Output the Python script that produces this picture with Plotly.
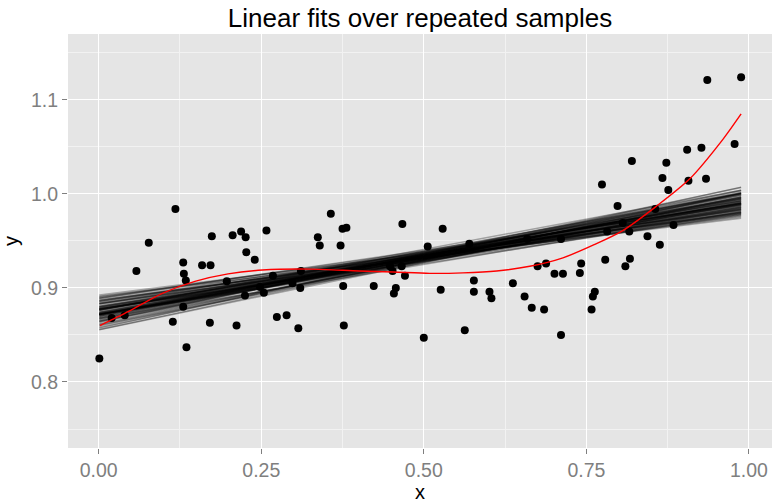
import plotly.graph_objects as go

# Observed sample
x_obs = [0.001, 0.020, 0.040, 0.058, 0.077, 0.114, 0.118, 0.130, 0.131, 0.134,
         0.130, 0.135, 0.159, 0.171, 0.172, 0.174, 0.197, 0.206, 0.212, 0.219,
         0.225, 0.226, 0.227, 0.240, 0.248, 0.254, 0.258, 0.268, 0.274, 0.289,
         0.298, 0.307, 0.310, 0.311, 0.337, 0.340, 0.357, 0.372, 0.375, 0.381,
         0.376, 0.377, 0.423, 0.448, 0.452, 0.454, 0.457, 0.466, 0.467, 0.471,
         0.500, 0.506, 0.526, 0.529, 0.563, 0.570, 0.577, 0.577, 0.601, 0.604,
         0.637, 0.655, 0.659, 0.666, 0.675, 0.685, 0.688, 0.701, 0.711, 0.711,
         0.714, 0.740, 0.742, 0.758, 0.760, 0.763, 0.774, 0.779, 0.782, 0.798,
         0.806, 0.810, 0.816, 0.817, 0.820, 0.844, 0.856, 0.863, 0.867, 0.873,
         0.876, 0.884, 0.905, 0.907, 0.927, 0.934, 0.936, 0.978, 0.988]
y_obs = [0.825, 0.868, 0.871, 0.918, 0.948, 0.864, 0.984, 0.927, 0.915, 0.908,
         0.880, 0.837, 0.924, 0.863, 0.924, 0.955, 0.907, 0.956, 0.860, 0.960,
         0.892, 0.954, 0.938, 0.930, 0.901, 0.895, 0.961, 0.913, 0.869, 0.871,
         0.905, 0.857, 0.900, 0.918, 0.954, 0.945, 0.979, 0.945, 0.963, 0.964,
         0.902, 0.860, 0.902, 0.923, 0.918, 0.894, 0.900, 0.923, 0.968, 0.913,
         0.847, 0.944, 0.898, 0.963, 0.855, 0.947, 0.908, 0.896, 0.896, 0.889,
         0.905, 0.891, 0.952, 0.879, 0.923, 0.877, 0.926, 0.915, 0.952, 0.850,
         0.915, 0.916, 0.926, 0.877, 0.891, 0.896, 1.010, 0.930, 0.960, 0.987,
         0.969, 0.923, 0.960, 0.931, 1.035, 0.955, 0.984, 0.946, 1.017, 1.033,
         1.004, 0.967, 1.047, 1.014, 1.049, 1.016, 1.121, 1.053, 1.124]

# Linear fits from repeated samples: intercepts and slopes
fit_intercepts = [0.8720, 0.8775, 0.8685, 0.8710, 0.8890, 0.8715, 0.8665, 0.8895, 0.8715, 0.8810,
                  0.8555, 0.8795, 0.8795, 0.8605, 0.8865, 0.8680, 0.8790, 0.8595, 0.8890, 0.8695,
                  0.8925, 0.8700, 0.8715, 0.8665, 0.8720, 0.8770, 0.8835, 0.8700, 0.8775, 0.8580,
                  0.8860, 0.8720, 0.8645, 0.8775, 0.8740, 0.8765, 0.8875, 0.8765, 0.8710, 0.8680,
                  0.8780, 0.8735, 0.8905, 0.8620, 0.8785, 0.8755, 0.8830, 0.8555, 0.8780, 0.8725,
                  0.8700, 0.8775, 0.8725, 0.8910, 0.8610, 0.8825, 0.8725, 0.8850, 0.8650, 0.8835,
                  0.8570, 0.8830, 0.8715, 0.8675, 0.8730, 0.8865, 0.8715, 0.8760, 0.8650, 0.8805,
                  0.8725, 0.8765, 0.8800, 0.8740, 0.8635, 0.8770, 0.8640, 0.8855, 0.8740, 0.8720]
fit_slopes = [0.122, 0.105, 0.137, 0.114, 0.092, 0.125, 0.131, 0.099, 0.119, 0.110,
              0.147, 0.107, 0.117, 0.133, 0.095, 0.128, 0.112, 0.141, 0.102, 0.123,
              0.087, 0.126, 0.115, 0.135, 0.108, 0.120, 0.097, 0.130, 0.111, 0.144,
              0.104, 0.118, 0.139, 0.101, 0.124, 0.113, 0.089, 0.129, 0.116, 0.134,
              0.106, 0.121, 0.093, 0.136, 0.109, 0.127, 0.098, 0.143, 0.114, 0.117,
              0.132, 0.103, 0.123, 0.084, 0.138, 0.111, 0.119, 0.100, 0.126, 0.107,
              0.152, 0.096, 0.129, 0.115, 0.122, 0.091, 0.131, 0.108, 0.140, 0.105,
              0.113, 0.125, 0.102, 0.120, 0.145, 0.110, 0.128, 0.099, 0.118, 0.116]

# Smooth trend curve
curve_x = [0.002, 0.046, 0.097, 0.148, 0.199, 0.252, 0.325, 0.401, 0.453, 0.509,
           0.560, 0.612, 0.663, 0.714, 0.762, 0.806, 0.857, 0.909, 0.960, 0.988]
curve_y = [0.860, 0.875, 0.894, 0.907, 0.915, 0.919, 0.920, 0.918, 0.917, 0.9155,
           0.916, 0.918, 0.923, 0.932, 0.946, 0.961, 0.9865, 1.016, 1.058, 1.085]

x_ticks = [0.0, 0.25, 0.5, 0.75, 1.0]
x_ticklabels = ["0.00", "0.25", "0.50", "0.75", "1.00"]
y_ticks = [0.8, 0.9, 1.0, 1.1]
y_ticklabels = ["0.8", "0.9", "1.0", "1.1"]

FONT = "Liberation Sans, Arial, sans-serif"

fig = go.Figure()

x_lo, x_hi = min(x_obs), max(x_obs)
for a, b in zip(fit_intercepts, fit_slopes):
    fig.add_trace(go.Scatter(
        x=[x_lo, x_hi], y=[a + b * x_lo, a + b * x_hi],
        mode="lines", line=dict(color="rgba(0,0,0,0.3)", width=1.5),
        hoverinfo="skip", showlegend=False))

fig.add_trace(go.Scatter(
    x=x_obs, y=y_obs, mode="markers",
    marker=dict(color="black", size=8, line=dict(width=0)),
    showlegend=False))

fig.add_trace(go.Scatter(
    x=curve_x, y=curve_y, mode="lines",
    line=dict(color="#FF0000", width=1.4, shape="spline", smoothing=0.8),
    showlegend=False))

axis_common = dict(
    showgrid=True, gridcolor="white", gridwidth=1.3,
    zeroline=False, showline=False,
    ticks="outside", ticklen=5, tickwidth=1, tickcolor="#7F7F7F",
    tickfont=dict(family=FONT, size=19.5, color="#7F7F7F"),
    minor=dict(showgrid=True, gridcolor="#F2F2F2", gridwidth=0.6, ticks=""),
)

fig.update_xaxes(
    range=[-0.0472, 1.0355], tickvals=x_ticks, ticktext=x_ticklabels,
    minor_tickvals=[-0.125 + 0.25 * i for i in range(1, 5)] + [1.125],
    title=dict(text="x", font=dict(family=FONT, size=20, color="black"), standoff=3),
    **axis_common)
fig.update_yaxes(
    range=[0.7298, 1.170], tickvals=y_ticks, ticktext=y_ticklabels,
    minor_tickvals=[0.75, 0.85, 0.95, 1.05, 1.15],
    title=dict(text="y", font=dict(family=FONT, size=20, color="black"), standoff=8),
    **axis_common)

fig.update_layout(
    width=772, height=503,
    margin=dict(l=68, r=0, t=34, b=55),
    plot_bgcolor="#E5E5E5", paper_bgcolor="white",
    title=dict(text="Linear fits over repeated samples",
               font=dict(family=FONT, size=26, color="black"),
               x=(68 + 772) / 2 / 772, xanchor="center", y=0.964, yanchor="middle"),
)

fig.write_html("out.html")
